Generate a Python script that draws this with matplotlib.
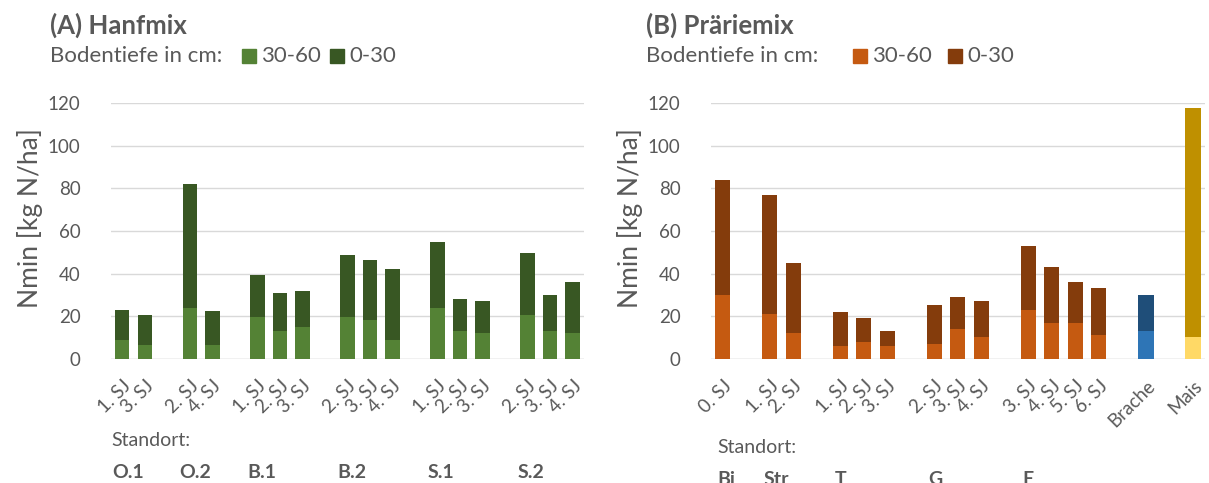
import numpy as np
import matplotlib.pyplot as plt
from matplotlib.patches import Rectangle

plt.rcParams['font.family'] = ['Lato', 'DejaVu Sans']

GRAY = '#595959'

# (A) Hanfmix
hanf_groups = ['O.1', 'O.2', 'B.1', 'B.2', 'S.1', 'S.2']
hanf_labels = [['1. SJ', '3. SJ'], ['2. SJ', '4. SJ'],
               ['1. SJ', '2. SJ', '3. SJ'], ['2. SJ', '3. SJ', '4. SJ'],
               ['1. SJ', '2. SJ', '3. SJ'], ['2. SJ', '3. SJ', '4. SJ']]
hanf_deep = [9, 6.5, 24, 6.5, 19.5, 13, 15, 19.5, 18, 9, 24, 13, 12, 20.5, 13, 12]   # 30-60 cm
hanf_top = [14, 14, 58, 16, 20, 18, 17, 29, 28.5, 33, 31, 15, 15, 29, 17, 24]        # 0-30 cm

# (B) Präriemix
prae_groups = ['Bi', 'Str', 'T', 'G', 'E', '', '']
prae_labels = [['0. SJ'], ['1. SJ', '2. SJ'], ['1. SJ', '2. SJ', '3. SJ'],
               ['2. SJ', '3. SJ', '4. SJ'], ['3. SJ', '4. SJ', '5. SJ', '6. SJ'],
               ['Brache'], ['Mais']]
prae_deep = [30, 21, 12, 6, 8, 6, 7, 14, 10, 23, 17, 17, 11, 13, 10]
prae_top = [54, 56, 33, 16, 11, 7, 18, 15, 17, 30, 26, 19, 22, 17, 108]

green_light, green_dark = '#548235', '#385723'
orange_light, orange_dark = '#C55A11', '#843C0C'


def positions(groups):
    pos, firsts, k = [], [], 0
    for g in groups:
        firsts.append(k)
        for _ in g:
            pos.append(k)
            k += 1
        k += 1
    return np.array(pos), firsts


fig = plt.figure(figsize=(12.09, 4.83), dpi=100)
axA = fig.add_axes([0.0918, 0.2574, 0.3912, 0.5286])
axB = fig.add_axes([0.5881, 0.2574, 0.4084, 0.5286])


def panel(ax, labels, groups, deep, top, cl, cd, goff, ylab, ylx):
    x, firsts = positions(labels)
    cl = list(cl) if isinstance(cl, list) else [cl] * len(x)
    cd = list(cd) if isinstance(cd, list) else [cd] * len(x)
    ax.bar(x, deep, width=0.64, color=cl, zorder=3)
    ax.bar(x, top, width=0.64, bottom=deep, color=cd, zorder=3)
    ax.set_xlim(-0.5, 20.5)
    ax.set_ylim(0, 120)
    ax.set_yticks(range(0, 121, 20))
    ax.yaxis.grid(True, color='#D9D9D9', linewidth=1)
    ax.set_axisbelow(True)
    for s in ax.spines.values():
        s.set_visible(False)
    ax.axhline(0, color='#D9D9D9', linewidth=1, zorder=1)
    ax.tick_params(axis='both', length=0, colors=GRAY)
    ax.tick_params(axis='y', pad=22, labelsize=13.5)
    ax.set_xticks(x)
    ax.set_xticklabels([l for g in labels for l in g], rotation=45, ha='right',
                       rotation_mode='anchor', fontsize=13.5)
    ax.tick_params(axis='x', pad=13)
    ax.set_ylabel(ylab, fontsize=19, color=GRAY)
    ax.yaxis.set_label_coords(ylx, 0.55)
    tr = ax.get_xaxis_transform()
    ax.text(-0.5 + goff[0], goff[1], 'Standort:', transform=tr, fontsize=14,
            color=GRAY, ha='left', va='center')
    for f, g in zip(firsts, groups):
        ax.text(f - goff[2], goff[3], g, transform=tr, fontsize=14,
                color=GRAY, ha='left', va='center', fontweight='bold')


panel(axA, hanf_labels, hanf_groups, hanf_deep, hanf_top,
      green_light, green_dark, (0.0, -0.322, 0.45, -0.444), 'Nmin [kg N/ha]', -0.144)
panel(axB, prae_labels, prae_groups, prae_deep, prae_top,
      [orange_light] * 13 + ['#2E75B6', '#FFD966'],
      [orange_dark] * 13 + ['#1F4E79', '#BF9000'],
      (0.25, -0.346, 0.25, -0.475), 'Nmin [kg N/ha]', -0.138)

# titles and legends
fig.text(50 / 1209, 1 - 25 / 483, '(A) Hanfmix', fontsize=18.5, fontweight='bold',
         color=GRAY, va='center')
fig.text(646 / 1209, 1 - 25 / 483, '(B) Präriemix', fontsize=18.5, fontweight='bold',
         color=GRAY, va='center')


def legend(x0, sq1, t1, sq2, t2, cl, cd):
    y = 1 - 56 / 483
    fig.text(x0 / 1209, y, 'Bodentiefe in cm:', fontsize=16, color=GRAY, va='center')
    for sx, tx, c, t in ((sq1, t1, cl, '30-60'), (sq2, t2, cd, '0-30')):
        fig.patches.append(Rectangle((sx / 1209, y - 7 / 483), 14 / 1209, 14 / 483,
                                     transform=fig.transFigure, color=c))
        fig.text(tx / 1209, y, t, fontsize=16, color=GRAY, va='center')


legend(50, 242, 261, 330, 349, green_light, green_dark)
legend(646, 853, 872, 948, 967, orange_light, orange_dark)

fig.savefig('out.png', dpi=100)
